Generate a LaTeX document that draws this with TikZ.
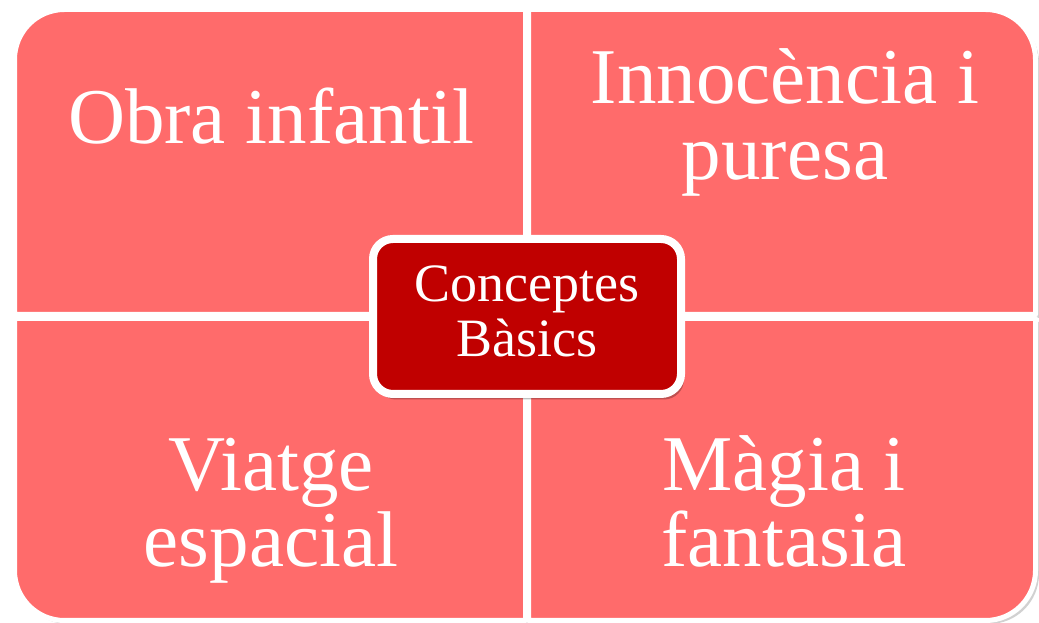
\documentclass[tikz,border=0pt]{standalone}
\usepackage{fontspec}
\setmainfont{Liberation Serif}
\usetikzlibrary{shadows}
\definecolor{salmon}{RGB}{255,107,107}
\definecolor{deepred}{RGB}{192,0,0}
\tikzset{
  quad/.style={fill=salmon, draw=white, line width=5pt, line join=round,
    drop shadow={shadow xshift=3.5pt, shadow yshift=-3.5pt, fill=black, opacity=0.18}},
  bigtext/.style={text=white, align=center, anchor=base,
    font=\fontsize{79}{76}\selectfont},
  hub/.style={fill=deepred, draw=white, line width=8pt, rounded corners=20pt,
    minimum width=308pt, minimum height=155pt, inner sep=0pt,
    drop shadow={shadow xshift=3pt, shadow yshift=-5.5pt, fill=black, opacity=0.25}},
  hubtext/.style={text=white, align=center, anchor=base,
    font=\fontsize{54}{55}\selectfont}
}
\begin{document}
\begin{tikzpicture}[x=1pt,y=1pt]
\useasboundingbox (0,0) rectangle (1039,623);
% quadrants
\path[quad] (525.5,308.5) -- (525.5,613.5) -- (64.5,613.5)
  arc[start angle=90,end angle=180,radius=50] -- (14.5,308.5) -- cycle;
\path[quad] (528.5,308.5) -- (528.5,613.5) -- (985.5,613.5)
  arc[start angle=90,end angle=0,radius=50] -- (1035.5,308.5) -- cycle;
\path[quad] (525.5,304.5) -- (14.5,304.5) -- (14.5,52.5)
  arc[start angle=180,end angle=270,radius=50] -- (525.5,2.5) -- cycle;
\path[quad] (528.5,304.5) -- (1035.5,304.5) -- (1035.5,52.5)
  arc[start angle=0,end angle=-90,radius=50] -- (528.5,2.5) -- cycle;
% texts (base anchor = baseline of the last line)
\node[bigtext] (obra) at (271,479) {Obra infantil};
\node[bigtext] (innocencia) at (785,443) {Innocència i\\puresa};
\node[bigtext] (viatge) at (271,56) {Viatge\\espacial};
\node[bigtext] (magia) at (784,56) {Màgia i\\fantasia};
% hub
\node[hub] (hubbox) at (527,306.5) {};
\node[hubtext] (hubtxt) at (527,266) {Conceptes\\Bàsics};
\end{tikzpicture}
\end{document}
